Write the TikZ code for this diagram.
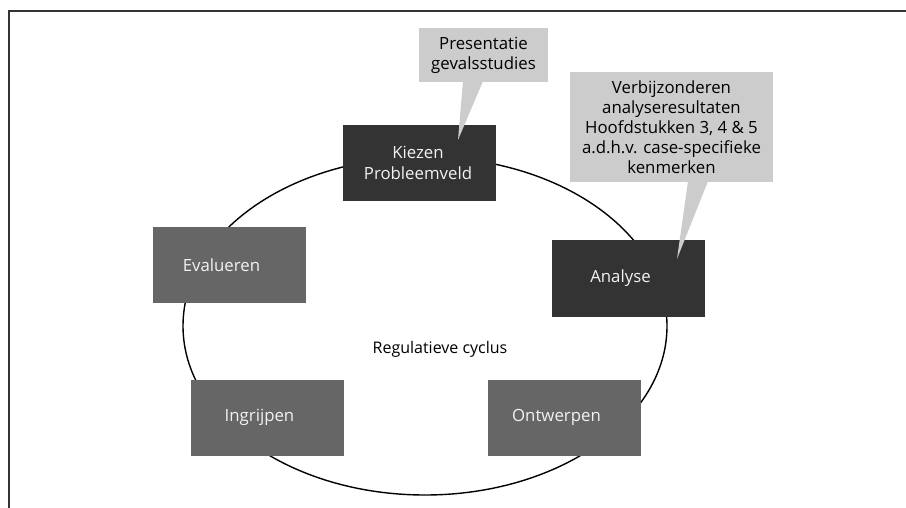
\documentclass[tikz,border=0pt]{standalone}
\usepackage{fontspec}
\setmainfont{Open Sans}
\begin{document}
\begin{tikzpicture}[x=1pt,y=-1pt,
  frameline/.style={draw=black!80, line width=2pt},
  cycleline/.style={draw=black, line width=1.4pt},
  stage/.style={minimum width=153pt, minimum height=76pt, inner sep=0pt},
  darkstage/.style={stage, fill=black!80},
  midstage/.style={stage, fill=black!60},
  stagetext/.style={text=black!5, font=\fontsize{16.8}{21}\selectfont, align=center, inner sep=0pt, xshift=-8pt},
  notefill/.style={fill=black!20},
  note/.style={notefill, inner sep=0pt, align=center, font=\fontsize{16.8}{20}\selectfont},
]
\useasboundingbox (0,0) rectangle (906,508);

% outer frame, open at the right and bottom
\coordinate (frameRight) at (906,11);
\coordinate (frameCorner) at (9,11);
\coordinate (frameBottom) at (9,508);
\draw[frameline] (frameRight) -- (frameCorner) -- (frameBottom);

% the cycle
\coordinate (cycleCentre) at (425,326);
\draw[cycleline] (cycleCentre) ellipse [x radius=242pt, y radius=169pt];
\node[font=\fontsize{16}{20}\selectfont] (cycleName) at (440,349) {Regulatieve cyclus};

% stages of the cycle
\node[darkstage, label={[stagetext, xshift=6.5pt]center:{Kiezen\\Probleemveld}}] (kiezen) at (419.5,163) {};
\node[darkstage, label={[stagetext]center:Analyse}] (analyse) at (628.5,278.5) {};
\node[midstage, label={[stagetext]center:Ontwerpen}] (ontwerpen) at (564.5,417.5) {};
\node[midstage, label={[stagetext]center:Ingrijpen}] (ingrijpen) at (267.5,417.5) {};
\node[midstage, label={[stagetext]center:Evalueren}] (evalueren) at (229.5,265) {};

% callout on the first stage
\node[note, minimum width=129pt, minimum height=54pt] (presentatie) at (483.5,55) {Presentatie\\gevalsstudies};
\coordinate (presentatieTip) at (458,140);
\fill[notefill] ([shift={(-20.5pt,1pt)}]presentatie.south) -- (presentatieTip) -- ([shift={(-0.5pt,1pt)}]presentatie.south) -- cycle;

% callout on the analysis stage
\node[note, minimum width=203pt, minimum height=110pt] (verbijzonderen) at (671.5,127)
  {Verbijzonderen\\analyseresultaten\\Hoofdstukken 3, 4 \& 5\\a.d.h.v. case-specifieke\\kenmerken};
\coordinate (verbijzonderenTip) at (677,259);
\fill[notefill] ([shift={(16.5pt,1pt)}]verbijzonderen.south) -- (verbijzonderenTip) -- ([shift={(36.5pt,1pt)}]verbijzonderen.south) -- cycle;
\end{tikzpicture}
\end{document}
